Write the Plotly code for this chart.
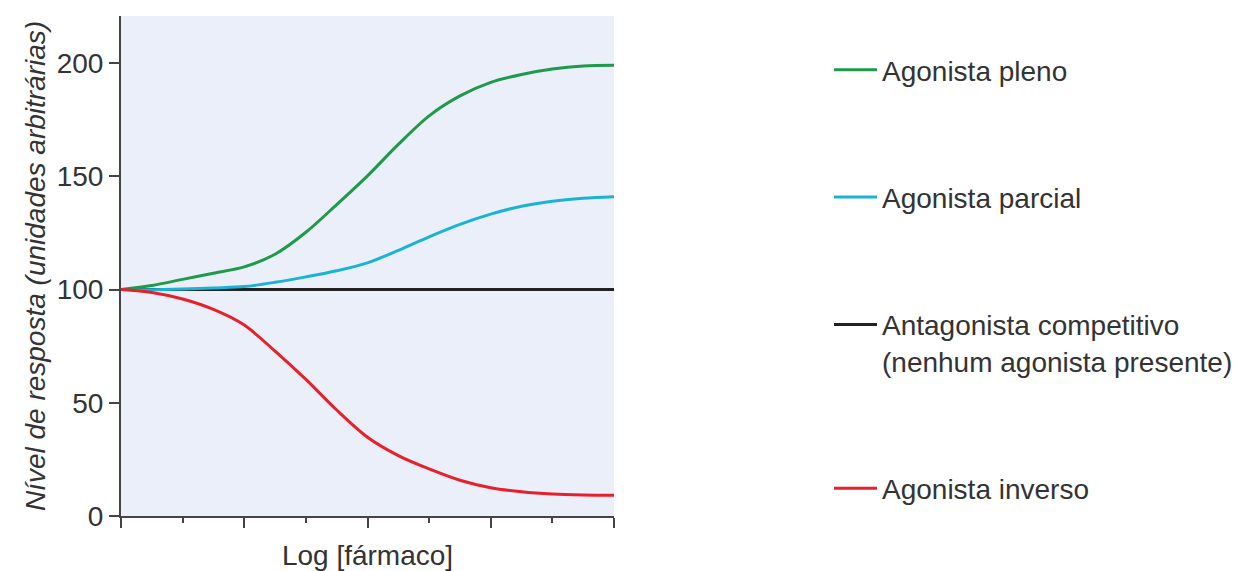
import plotly.graph_objects as go

# Log [drug] positions (arbitrary units along the x axis)
log_dose = [0.0, 0.25, 0.5, 0.75, 1.0, 1.25, 1.5, 1.75, 2.0, 2.25, 2.5, 2.75, 3.0, 3.25, 3.5, 3.75, 4.0]

full_agonist = [100, 101.8, 104.5, 107.2, 110, 115.6, 125.3, 137.5, 150.2, 164.1, 176.7, 185.5, 191.5, 195, 197.4, 198.7, 199]
partial_agonist = [100, 99.9, 100.2, 100.7, 101.3, 103.2, 105.6, 108.3, 111.8, 117.3, 123.3, 128.8, 133.3, 136.8, 139, 140.3, 141]
competitive_antagonist = [100, 100, 100, 100, 100, 100, 100, 100, 100, 100, 100, 100, 100, 100, 100, 100, 100]
inverse_agonist = [100, 98.7, 95.8, 91.2, 84.3, 72.8, 60.3, 46.8, 34.8, 26.7, 20.8, 15.8, 12.5, 10.7, 9.7, 9.3, 9.2]

series_names = [
    "Agonista pleno",
    "Agonista parcial",
    "Antagonista competitivo<br>(nenhum agonista presente)",
    "Agonista inverso",
]
y_ticks = [0, 50, 100, 150, 200]

FONT = "Liberation Sans, Arial, Helvetica, sans-serif"
TXT = "#333333"
AX = "#444444"

W, H = 1232, 563  # page adds an 8px body margin

fig = go.Figure()

# draw order: antagonist, partial, full, inverse; legend order via legendrank
fig.add_trace(go.Scatter(x=log_dose, y=competitive_antagonist, mode="lines",
                         name=series_names[2], legendrank=3, legendgroup="c",
                         line=dict(color="#222222", width=3)))
fig.add_trace(go.Scatter(x=log_dose, y=partial_agonist, mode="lines",
                         name=series_names[1], legendrank=2, legendgroup="b",
                         line=dict(color="#1CB3D3", width=3, shape="spline", smoothing=0.9)))
fig.add_trace(go.Scatter(x=log_dose, y=full_agonist, mode="lines",
                         name=series_names[0], legendrank=1, legendgroup="a",
                         line=dict(color="#1E9A4A", width=3, shape="spline", smoothing=0.9)))
fig.add_trace(go.Scatter(x=log_dose, y=inverse_agonist, mode="lines",
                         name=series_names[3], legendrank=4, legendgroup="d",
                         line=dict(color="#E8202B", width=3, shape="spline", smoothing=0.9)))

fig.update_layout(
    width=W, height=H,
    margin=dict(l=113, r=W - 606, t=8, b=H - 508, autoexpand=False),
    paper_bgcolor="white",
    plot_bgcolor="#EAEFF9",
    font=dict(family=FONT, size=28, color=TXT),
    showlegend=True,
    legend=dict(
        xref="container", yref="container",
        x=821 / W, y=1 - 37 / H, xanchor="left", yanchor="top",
        bgcolor="rgba(0,0,0,0)", borderwidth=0,
        tracegroupgap=88, valign="top",
        font=dict(family=FONT, size=28, color=TXT),
        itemwidth=43, maxheight=1,
    ),
    xaxis=dict(
        range=[0, 4], showgrid=False, zeroline=False, automargin=False,
        showline=True, linecolor=AX, linewidth=2,
        ticks="outside", ticklen=10, tickwidth=1.5, tickcolor=AX,
        dtick=1, tick0=0, showticklabels=False,
        minor=dict(ticks="outside", ticklen=5, tickwidth=1.5, tickcolor=AX, dtick=0.5, tick0=0, showgrid=False),
        title=dict(text="Log [fármaco]", font=dict(family=FONT, size=28, color=TXT), standoff=27),
        fixedrange=True,
    ),
    yaxis=dict(
        range=[0, 220.8], showgrid=False, zeroline=False, automargin=False,
        showline=True, linecolor=AX, linewidth=2,
        ticks="outside", ticklen=10, tickwidth=1.5, tickcolor=AX,
        tickvals=y_ticks, ticktext=[str(v) for v in y_ticks],
        tickfont=dict(family=FONT, size=28, color=TXT),
        title=dict(text="Nível de resposta (unidades arbitrárias)",
                   font=dict(family=FONT, size=28, color=TXT, style="italic"), standoff=3),
        fixedrange=True,
    ),
)

fig.write_html("out.html")
